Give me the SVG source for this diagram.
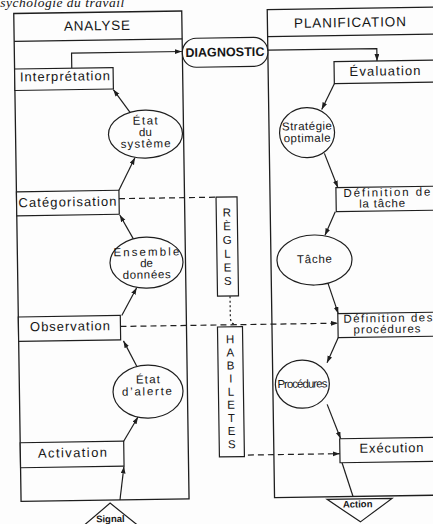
<svg xmlns="http://www.w3.org/2000/svg" width="433" height="524" viewBox="0 0 433 524">
  <defs>
    <marker id="arr" markerUnits="userSpaceOnUse" markerWidth="8" markerHeight="6" refX="7" refY="2.4" orient="auto">
      <path d="M0,0 L7,2.4 L0,4.8 z" fill="#1e1e1e"/>
    </marker>
    <style>
      .frame { fill: none; stroke: #1e1e1e; stroke-width: 1.3; }
      .box { fill: #fdfdfd; stroke: #1e1e1e; stroke-width: 1.2; }
      .ell { fill: #fdfdfd; stroke: #1e1e1e; stroke-width: 1.2; }
      .pill { fill: #fdfdfd; stroke: #1e1e1e; stroke-width: 1.2; }
      .link { fill: none; stroke: #1e1e1e; stroke-width: 1.2; }
      .dash { fill: none; stroke: #1e1e1e; stroke-width: 1.2; stroke-dasharray: 6 4; }
      .dot { fill: none; stroke: #1e1e1e; stroke-width: 1.2; stroke-dasharray: 2 2.5; }
      text { font-family: "Liberation Sans", Arial, sans-serif; fill: #161616; text-anchor: middle; }
      .ttl { font-size: 13.5px; }
      .lbl { font-size: 13px; }
      .lbl2 { font-size: 11.5px; }
      .sm { font-size: 11.5px; }
      .diag { font-size: 12.5px; font-weight: bold; }
      .vt { font-size: 11.5px; }
      .tri { font-size: 9.5px; font-weight: bold; }
      .hdr { font-family: "Liberation Serif", "Times New Roman", serif; font-style: italic; font-size: 13.5px; text-anchor: start; letter-spacing: 0.5px; }
    </style>
  </defs>

  <rect width="433" height="524" fill="#fdfdfd"/>

  <text class="hdr" x="-8.5" y="7">Psychologie du travail</text>

  <g transform="rotate(-0.86 216 262)">
    <!-- ANALYSE column -->
    <g id="analyse">
      <rect class="frame" x="17.5" y="10.5" width="168" height="488"/>
      <line class="frame" x1="17.5" y1="38.3" x2="185.5" y2="38.3"/>
      <text class="ttl" x="100.5" y="28.5" textLength="66">ANALYSE</text>
    </g>

    <!-- PLANIFICATION column -->
    <g id="planification">
      <rect class="frame" x="271" y="10.5" width="190" height="488"/>
      <line class="frame" x1="271" y1="37.5" x2="461" y2="37.5"/>
      <text class="ttl" x="353.5" y="29" textLength="112">PLANIFICATION</text>
    </g>

    <!-- connectors -->
    <g id="connectors">
      <path class="link" d="M74.7,66 V51 H185" marker-end="url(#arr)"/>
      <path class="link" d="M271,51 H380 V63.5" marker-end="url(#arr)"/>
      <path class="link" d="M337,85.5 L324,111" marker-end="url(#arr)"/>
      <path class="link" d="M326,155 L339,189.5" marker-end="url(#arr)"/>
      <path class="link" d="M336,213.5 L325.4,237" marker-end="url(#arr)"/>
      <path class="link" d="M327.7,285 L337.5,315.5" marker-end="url(#arr)"/>
      <path class="link" d="M337,339.5 L325.5,364.5" marker-end="url(#arr)"/>
      <path class="link" d="M325,406 L338,440.6" marker-end="url(#arr)"/>
      <path class="link" d="M339,464.6 L349.5,498.5"/>
      <path class="link" d="M116.4,498.5 L120.9,465" marker-end="url(#arr)"/>
      <path class="link" d="M121,439.8 L135.7,415.8" marker-end="url(#arr)"/>
      <path class="link" d="M135.2,365 L122.3,339.5" marker-end="url(#arr)"/>
      <path class="link" d="M121,314 L136.3,286.5" marker-end="url(#arr)"/>
      <path class="link" d="M133.7,237.6 L120.5,213.5" marker-end="url(#arr)"/>
      <path class="link" d="M120,188.8 L136.5,156.5" marker-end="url(#arr)"/>
      <path class="link" d="M132.3,111.1 L115.9,88" marker-end="url(#arr)"/>
      <path class="dash" d="M120,197.2 H217"/>
      <path class="dash" d="M119.5,325 H337" marker-end="url(#arr)"/>
      <path class="dot" d="M229.5,296.5 V318 Q230,325 236,325"/>
      <path class="dash" d="M245,455.5 H337" marker-end="url(#arr)"/>
    </g>

    <!-- DIAGNOSTIC -->
    <g id="diagnostic">
      <rect class="pill" x="185.5" y="38" width="85.5" height="29" rx="14" ry="14"/>
      <text class="diag" x="228" y="56.5" textLength="79">DIAGNOSTIC</text>
    </g>

    <!-- analysis steps -->
    <g id="interpretation">
      <rect class="box" x="17.5" y="66" width="98.5" height="21.5"/>
      <text class="lbl" x="67.7" y="78.5" textLength="90">Interprétation</text>
    </g>
    <g id="etat-systeme">
      <ellipse class="ell" cx="147.4" cy="133" rx="37" ry="24"/>
      <text class="sm" x="147.4" y="123.5" textLength="25">État</text>
      <text class="sm" x="147.4" y="135">du</text>
      <text class="sm" x="147.4" y="146.5" textLength="50">système</text>
    </g>
    <g id="categorisation">
      <rect class="box" x="17.5" y="188.8" width="102.5" height="24"/>
      <text class="lbl" x="68.4" y="204.2" textLength="98">Catégorisation</text>
    </g>
    <g id="ensemble-donnees">
      <ellipse class="ell" cx="146.5" cy="261.5" rx="36.5" ry="25.5"/>
      <text class="sm" x="146.5" y="254.8" textLength="66">Ensemble</text>
      <text class="sm" x="146.5" y="266">de</text>
      <text class="sm" x="146.5" y="277.5" textLength="48">données</text>
    </g>
    <g id="observation">
      <rect class="box" x="17.5" y="314" width="102" height="24.5"/>
      <text class="lbl" x="69" y="328.5" textLength="80">Observation</text>
    </g>
    <g id="etat-alerte">
      <ellipse class="ell" cx="146.1" cy="390.5" rx="35" ry="26.5"/>
      <text class="sm" x="146.1" y="382.3" textLength="24">État</text>
      <text class="sm" x="145" y="394.3" textLength="50">d’alerte</text>
    </g>
    <g id="activation">
      <rect class="box" x="17.5" y="439.8" width="103.5" height="25"/>
      <text class="lbl" x="69.6" y="455" textLength="69">Activation</text>
    </g>
    <g id="signal">
      <path class="box" d="M72,530 L106.5,501.5 L141,530"/>
      <text class="tri" x="106.5" y="520.5">Signal</text>
    </g>

    <!-- planning steps -->
    <g id="evaluation">
      <rect class="box" x="337" y="63.5" width="110" height="22"/>
      <text class="lbl" x="387.9" y="78" textLength="71">Évaluation</text>
    </g>
    <g id="strategie">
      <ellipse class="ell" cx="309" cy="134" rx="27.5" ry="25"/>
      <text class="sm" x="309" y="131.4" textLength="50">Stratégie</text>
      <text class="sm" x="309" y="143.4" textLength="47">optimale</text>
    </g>
    <g id="definition-tache">
      <rect class="box" x="337" y="189.5" width="110" height="24"/>
      <text class="lbl2" x="388" y="198.8" textLength="87">Définition de</text>
      <text class="lbl2" x="383" y="209.8" textLength="46">la tâche</text>
    </g>
    <g id="tache">
      <ellipse class="ell" cx="314.5" cy="261.5" rx="37.5" ry="25"/>
      <text class="sm" x="314.5" y="264.5" textLength="35">Tâche</text>
    </g>
    <g id="definition-procedures">
      <rect class="box" x="337" y="315.5" width="110" height="24"/>
      <text class="lbl2" x="387" y="324.6" textLength="89">Définition des</text>
      <text class="lbl2" x="386" y="335.6" textLength="67">procédures</text>
    </g>
    <g id="procedures">
      <ellipse class="ell" cx="300.5" cy="385.5" rx="27" ry="24"/>
      <text class="sm" x="300.5" y="389" font-size="10.5" textLength="50">Procédures</text>
    </g>
    <g id="execution">
      <rect class="box" x="337" y="440.6" width="110" height="24"/>
      <text class="lbl" x="388.7" y="455" textLength="64">Exécution</text>
    </g>
    <g id="action">
      <path class="box" d="M323.5,501 L388.5,501 L356.5,524 z"/>
      <text class="tri" x="354" y="509.5">Action</text>
    </g>

    <!-- rules and skills -->
    <g id="regles">
      <rect class="box" x="217" y="197.2" width="21" height="99"/>
      <text class="vt" x="227.5" y="216.7">R</text>
      <text class="vt" x="227.5" y="230.4">È</text>
      <text class="vt" x="227.5" y="244.1">G</text>
      <text class="vt" x="227.5" y="257.8">L</text>
      <text class="vt" x="227.5" y="271.5">E</text>
      <text class="vt" x="227.5" y="285.2">S</text>
    </g>
    <g id="habiletes">
      <rect class="box" x="216.5" y="327" width="25" height="130"/>
      <text class="vt" x="229" y="343.5">H</text>
      <text class="vt" x="229" y="356.6">A</text>
      <text class="vt" x="229" y="369.7">B</text>
      <text class="vt" x="229" y="382.8">I</text>
      <text class="vt" x="229" y="395.9">L</text>
      <text class="vt" x="229" y="409">E</text>
      <text class="vt" x="229" y="422.1">T</text>
      <text class="vt" x="229" y="435.2">E</text>
      <text class="vt" x="229" y="448.3">S</text>
    </g>
  </g>
</svg>
